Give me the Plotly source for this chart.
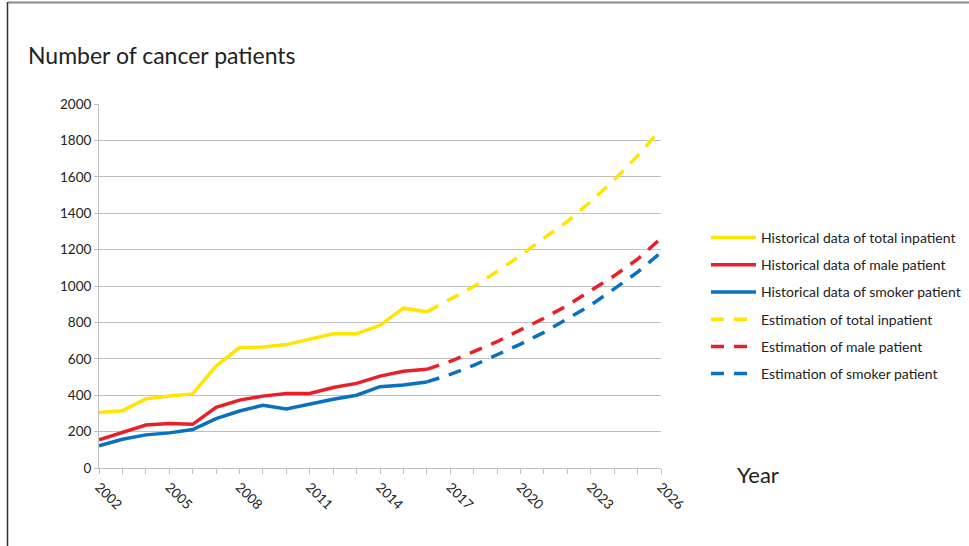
import plotly.graph_objects as go

hist_years = list(range(2002, 2017))
hist_total = [305, 315, 380, 396, 407, 560, 662, 665, 678, 707, 738, 738, 784, 878, 858]
hist_male = [155, 196, 236, 244, 240, 333, 373, 395, 409, 409, 442, 465, 505, 531, 542]
hist_smoker = [122, 158, 182, 193, 211, 271, 313, 345, 324, 353, 378, 400, 447, 456, 473]

est_years = list(range(2016, 2027))
est_total = [858, 928, 997, 1080, 1167, 1263, 1354, 1464, 1583, 1715, 1862]
est_male = [542, 586, 639, 694, 759, 823, 893, 972, 1056, 1147, 1262]
est_smoker = [473, 514, 564, 622, 681, 745, 818, 895, 984, 1076, 1185]

names = [
    "Historical data of total inpatient",
    "Historical data of male patient",
    "Historical data of smoker patient",
    "Estimation of total inpatient",
    "Estimation of male patient",
    "Estimation of smoker patient",
]

YELLOW = "#FFE500"
RED = "#E8202A"
BLUE = "#0A70C0"
FONT = "Lato"

fig = go.Figure()
series = [
    (hist_years, hist_total, YELLOW, "solid"),
    (hist_years, hist_male, RED, "solid"),
    (hist_years, hist_smoker, BLUE, "solid"),
    (est_years, est_total, YELLOW, "13px,10px"),
    (est_years, est_male, RED, "13px,10px"),
    (est_years, est_smoker, BLUE, "13px,10px"),
]
for i, (xs, ys, c, d) in enumerate(series):
    fig.add_trace(go.Scatter(
        x=xs, y=ys, mode="lines", name=names[i], legendgroup=str(i),
        line=dict(color=c, width=3.5, dash=d),
    ))

fig.update_layout(
    width=969, height=546,
    margin=dict(l=99, r=308, t=104, b=78),
    paper_bgcolor="white", plot_bgcolor="white",
    font=dict(family=FONT, size=13, color="#222222"),
    showlegend=True,
    legend=dict(
        xref="container", yref="container",
        x=706 / 969, xanchor="left", y=(546 - 222) / 546, yanchor="top",
        font=dict(family=FONT, size=14, color="#222222"),
        tracegroupgap=6, bgcolor="rgba(0,0,0,0)", itemwidth=45,
    ),
    xaxis=dict(
        range=[2002, 2026], tickmode="array",
        tickvals=list(range(2002, 2027, 3)),
        ticktext=[str(v) for v in range(2002, 2027, 3)],
        tickangle=45, showgrid=False, zeroline=False,
        showline=True, linecolor="#BFBFBF", linewidth=1,
        ticks="outside", ticklen=5, tickcolor="#BFBFBF",
        minor=dict(dtick=1, tick0=2002, ticks="outside", ticklen=5, tickcolor="#BFBFBF", showgrid=False),
        tickfont=dict(family=FONT, size=13.5, color="#222222"),
    ),
    yaxis=dict(
        range=[0, 2000], dtick=200, showgrid=True, gridcolor="#BFBFBF", gridwidth=1,
        zeroline=False, showline=True, linecolor="#BFBFBF", linewidth=1,
        ticks="outside", ticklen=4, tickcolor="#BFBFBF",
        tickfont=dict(family=FONT, size=13.5, color="#222222"),
    ),
    annotations=[
        dict(text="Number of cancer patients", xref="paper", yref="paper",
             x=(26 - 99) / 562, y=(468 - 55) / 364, xanchor="left", yanchor="middle",
             showarrow=False, font=dict(family=FONT, size=23, color="#222222")),
        dict(text="Year", xref="paper", yref="paper",
             x=(735 - 99) / 562, y=(468 - 474) / 364, xanchor="left", yanchor="middle",
             showarrow=False, font=dict(family=FONT, size=22, color="#222222")),
    ],
    shapes=[
        dict(type="line", xref="paper", yref="paper",
             x0=(8 - 99) / 562, x1=(969 - 99) / 562, y0=(468 - 2.5) / 364, y1=(468 - 2.5) / 364,
             line=dict(color="#8A8A8A", width=2)),
        dict(type="line", xref="paper", yref="paper",
             x0=(7.5 - 99) / 562, x1=(7.5 - 99) / 562, y0=(468 - 2) / 364, y1=(468 - 560) / 364,
             line=dict(color="#333333", width=1.5)),
    ],
)

fig.write_html("out.html", config={"displayModeBar": False},
               post_script="document.body.style.margin='0';document.body.style.overflow='hidden';")
